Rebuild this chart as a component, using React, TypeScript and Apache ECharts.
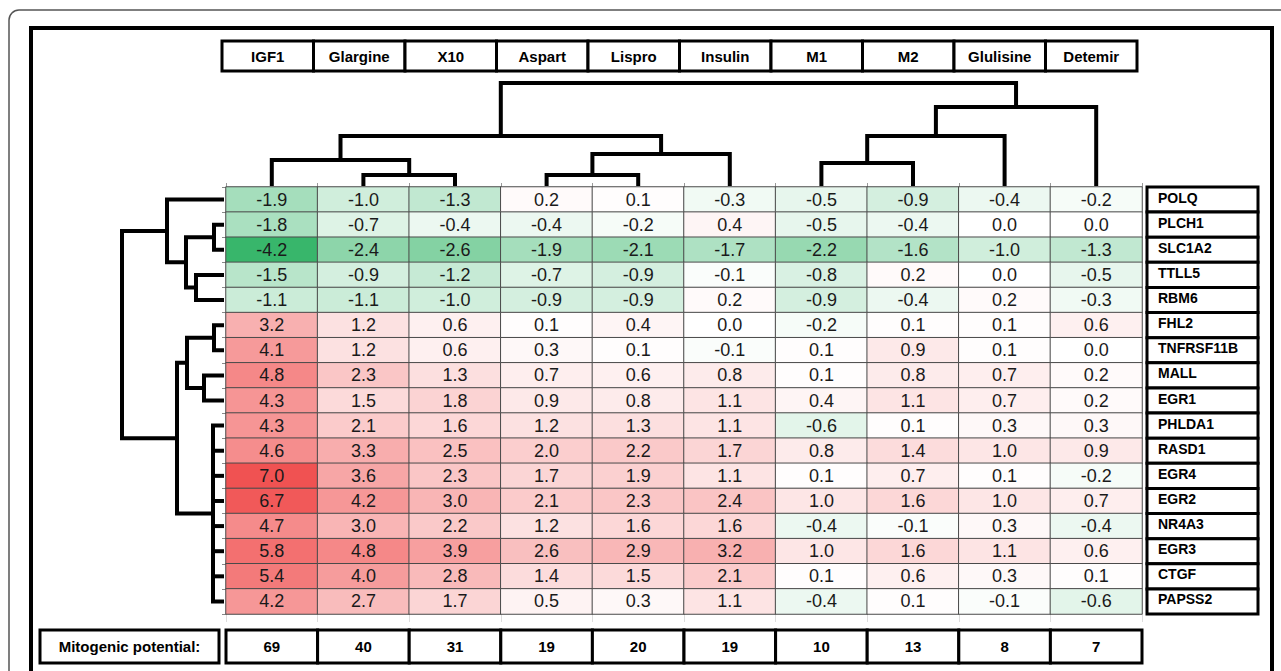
import React, { useEffect, useRef } from "react";
import * as echarts from "echarts";

const drugs = ["IGF1", "Glargine", "X10", "Aspart", "Lispro", "Insulin", "M1", "M2", "Glulisine", "Detemir"];
const genes = ["POLQ", "PLCH1", "SLC1A2", "TTLL5", "RBM6", "FHL2", "TNFRSF11B", "MALL", "EGR1", "PHLDA1", "RASD1", "EGR4", "EGR2", "NR4A3", "EGR3", "CTGF", "PAPSS2"];

const POLQ = [-1.9, -1.0, -1.3, 0.2, 0.1, -0.3, -0.5, -0.9, -0.4, -0.2];
const PLCH1 = [-1.8, -0.7, -0.4, -0.4, -0.2, 0.4, -0.5, -0.4, 0.0, 0.0];
const SLC1A2 = [-4.2, -2.4, -2.6, -1.9, -2.1, -1.7, -2.2, -1.6, -1.0, -1.3];
const TTLL5 = [-1.5, -0.9, -1.2, -0.7, -0.9, -0.1, -0.8, 0.2, 0.0, -0.5];
const RBM6 = [-1.1, -1.1, -1.0, -0.9, -0.9, 0.2, -0.9, -0.4, 0.2, -0.3];
const FHL2 = [3.2, 1.2, 0.6, 0.1, 0.4, 0.0, -0.2, 0.1, 0.1, 0.6];
const TNFRSF11B = [4.1, 1.2, 0.6, 0.3, 0.1, -0.1, 0.1, 0.9, 0.1, 0.0];
const MALL = [4.8, 2.3, 1.3, 0.7, 0.6, 0.8, 0.1, 0.8, 0.7, 0.2];
const EGR1 = [4.3, 1.5, 1.8, 0.9, 0.8, 1.1, 0.4, 1.1, 0.7, 0.2];
const PHLDA1 = [4.3, 2.1, 1.6, 1.2, 1.3, 1.1, -0.6, 0.1, 0.3, 0.3];
const RASD1 = [4.6, 3.3, 2.5, 2.0, 2.2, 1.7, 0.8, 1.4, 1.0, 0.9];
const EGR4 = [7.0, 3.6, 2.3, 1.7, 1.9, 1.1, 0.1, 0.7, 0.1, -0.2];
const EGR2 = [6.7, 4.2, 3.0, 2.1, 2.3, 2.4, 1.0, 1.6, 1.0, 0.7];
const NR4A3 = [4.7, 3.0, 2.2, 1.2, 1.6, 1.6, -0.4, -0.1, 0.3, -0.4];
const EGR3 = [5.8, 4.8, 3.9, 2.6, 2.9, 3.2, 1.0, 1.6, 1.1, 0.6];
const CTGF = [5.4, 4.0, 2.8, 1.4, 1.5, 2.1, 0.1, 0.6, 0.3, 0.1];
const PAPSS2 = [4.2, 2.7, 1.7, 0.5, 0.3, 1.1, -0.4, 0.1, -0.1, -0.6];

const rows = [POLQ, PLCH1, SLC1A2, TTLL5, RBM6, FHL2, TNFRSF11B, MALL, EGR1, PHLDA1, RASD1, EGR4, EGR2, NR4A3, EGR3, CTGF, PAPSS2];

const mitogenicLabel = "Mitogenic potential:";
const mitogenicPotential = [69, 40, 31, 19, 20, 19, 10, 13, 8, 7];

// Dendrogram merges: leaves are 0..n-1, each merge gets the next id
const drugMerges = [
  { children: [1, 2], height: 11 },
  { children: [0, 10], height: 26 },
  { children: [3, 4], height: 11 },
  { children: [12, 5], height: 32 },
  { children: [11, 13], height: 50 },
  { children: [6, 7], height: 23 },
  { children: [15, 8], height: 50 },
  { children: [16, 9], height: 79 },
  { children: [14, 17], height: 103 },
];
const geneMerges = [
  { children: [1, 2], height: 10 },
  { children: [3, 4], height: 28 },
  { children: [17, 18], height: 38 },
  { children: [0, 19], height: 57 },
  { children: [5, 6], height: 10 },
  { children: [7, 8], height: 20 },
  { children: [21, 22], height: 37 },
  { children: [9, 10, 11, 12, 13, 14, 15, 16], height: 11 },
  { children: [23, 24], height: 47 },
  { children: [20, 25], height: 102 },
];

type Seg = { height: number; stems: number[][] };

function buildDendro(nLeaves: number, merges: { children: number[]; height: number }[]): Seg[] {
  const pos: number[] = [];
  const h: number[] = [];
  for (let i = 0; i < nLeaves; i++) {
    pos.push(i + 0.5);
    h.push(0);
  }
  return merges.map((m) => {
    const stems = m.children.map((c) => [pos[c], h[c]]).sort((a, b) => a[0] - b[0]);
    pos.push((stems[0][0] + stems[stems.length - 1][0]) / 2);
    h.push(m.height);
    return { height: m.height, stems };
  });
}

function mix(a: number[], b: number[], t: number) {
  const c = a.map((v, i) => Math.round(v + (b[i] - v) * t));
  return `rgb(${c[0]},${c[1]},${c[2]})`;
}

const GREEN = [56, 182, 107];
const WHITE = [255, 255, 255];
const RED = [240, 82, 82];
const vMin = -4.2;
const vMax = 7.0;

function buildStops() {
  const out: string[] = [];
  const n = 112;
  for (let i = 0; i <= n; i++) {
    const v = vMin + ((vMax - vMin) * i) / n;
    out.push(v < 0 ? mix(WHITE, GREEN, -v / -vMin) : mix(WHITE, RED, v / vMax));
  }
  return out;
}

const FONT = "'Liberation Sans', Arial, sans-serif";

function dendroShape(seg: Seg, pt: (p: number, h: number) => number[]) {
  const first = seg.stems[0];
  const last = seg.stems[seg.stems.length - 1];
  const style = { fill: "none", stroke: "#000", lineWidth: 4, lineJoin: "miter", lineCap: "butt" };
  const children: any[] = [
    {
      type: "polyline",
      shape: {
        points: [pt(first[0], first[1]), pt(first[0], seg.height), pt(last[0], seg.height), pt(last[0], last[1])],
      },
      style,
    },
  ];
  seg.stems.slice(1, -1).forEach((s) => {
    const a = pt(s[0], s[1]);
    const b = pt(s[0], seg.height);
    children.push({ type: "line", shape: { x1: a[0], y1: a[1], x2: b[0], y2: b[1] }, style });
  });
  return { type: "group", children };
}

function boxRenderer(getText: (i: number) => string, opts: { align: string; pad: number; dy: number; size: number }) {
  return (params: any, api: any) => {
    const c = api.coord([api.value(0), api.value(1)]);
    const s = api.size([1, 1]);
    const x0 = c[0] - s[0] / 2;
    const y0 = c[1] - s[1] / 2;
    return {
      type: "group",
      children: [
        {
          type: "rect",
          shape: { x: x0, y: y0, width: s[0], height: s[1] },
          style: { fill: "#fff", stroke: "#000", lineWidth: 3 },
        },
        {
          type: "text",
          style: {
            text: getText(params.dataIndex),
            x: opts.align === "left" ? x0 + opts.pad : c[0],
            y: c[1] + opts.dy,
            align: opts.align,
            verticalAlign: "middle",
            fontSize: opts.size,
            fontWeight: "bold",
            fontFamily: FONT,
            fill: "#000",
          },
        },
      ],
    };
  };
}

export default function App() {
  const ref = useRef<HTMLDivElement>(null);

  useEffect(() => {
    if (!ref.current) return;
    const chart = echarts.init(ref.current, undefined, { renderer: "svg" });

    const heatData: number[][] = [];
    rows.forEach((r, y) => r.forEach((v, x) => heatData.push([x, y, v])));

    const topDendro = buildDendro(drugs.length, drugMerges);
    const leftDendro = buildDendro(genes.length, geneMerges);

    const cellTop = 187;
    const cellH = 427;
    const hmLeft = 226;
    const hmWidth = 916;

    const hidden = { show: false };

    const option: any = {
      animation: false,
      backgroundColor: "#fff",
      graphic: [
        {
          type: "rect",
          shape: { x: 9, y: 10, width: 1400, height: 800, r: 10 },
          style: { fill: "none", stroke: "#555", lineWidth: 1.5 },
          silent: true,
        },
        {
          type: "rect",
          shape: { x: 31, y: 28, width: 1241, height: 800 },
          style: { fill: "none", stroke: "#000", lineWidth: 4 },
          silent: true,
        },
      ],
      grid: [
        { left: hmLeft, top: cellTop, width: hmWidth, height: cellH },
        { left: hmLeft, top: 83, width: hmWidth, height: 103 },
        { left: 122, top: cellTop, width: 102, height: cellH },
        { left: 222, top: 41, width: 915, height: 30 },
        { left: 1147, top: cellTop, width: 111, height: cellH },
        { left: 40, top: 630, width: 179, height: 33 },
        { left: hmLeft, top: 630, width: hmWidth, height: 33 },
      ],
      xAxis: [
        {
          gridIndex: 0,
          type: "category",
          data: drugs,
          position: "top",
          axisLine: { show: true, lineStyle: { color: "#999", width: 1 } },
          axisTick: { show: true, length: 4, lineStyle: { color: "#999" } },
          axisLabel: { show: false },
          splitLine: { show: false },
        },
        {
          gridIndex: 0,
          type: "category",
          data: drugs,
          position: "bottom",
          axisLine: { show: false },
          axisTick: { show: true, length: 8, lineStyle: { color: "#ddd" } },
          axisLabel: { show: false },
        },
        { gridIndex: 1, type: "value", min: 0, max: drugs.length, ...hidden },
        { gridIndex: 2, type: "value", min: 0, max: 102, inverse: true, ...hidden },
        { gridIndex: 3, type: "category", data: drugs, ...hidden },
        { gridIndex: 4, type: "category", data: ["gene"], ...hidden },
        { gridIndex: 5, type: "category", data: ["label"], ...hidden },
        { gridIndex: 6, type: "category", data: drugs, ...hidden },
      ],
      yAxis: [
        {
          gridIndex: 0,
          type: "category",
          data: genes,
          inverse: true,
          axisLine: { show: true, lineStyle: { color: "#888", width: 1 } },
          axisTick: { show: true, length: 4, lineStyle: { color: "#888" } },
          axisLabel: { show: false },
          splitLine: { show: false },
        },
        { gridIndex: 1, type: "value", min: 0, max: 103, ...hidden },
        { gridIndex: 2, type: "value", min: 0, max: genes.length, inverse: true, ...hidden },
        { gridIndex: 3, type: "category", data: ["header"], ...hidden },
        { gridIndex: 4, type: "category", data: genes, inverse: true, ...hidden },
        { gridIndex: 5, type: "category", data: ["label"], ...hidden },
        { gridIndex: 6, type: "category", data: ["value"], ...hidden },
      ],
      visualMap: {
        show: false,
        type: "continuous",
        seriesIndex: 0,
        dimension: 2,
        min: vMin,
        max: vMax,
        inRange: { color: buildStops() },
      },
      series: [
        {
          type: "heatmap",
          xAxisIndex: 0,
          yAxisIndex: 0,
          data: heatData,
          itemStyle: { borderColor: "#4a4a4a", borderWidth: 1 },
          label: {
            show: true,
            formatter: (p: any) => Number(p.value[2]).toFixed(1),
            fontSize: 18,
            fontFamily: FONT,
            color: "#1a1a1a",
          },
          emphasis: { disabled: true },
        },
        {
          type: "custom",
          xAxisIndex: 2,
          yAxisIndex: 1,
          data: topDendro.map((s, i) => [i, s.height]),
          clip: false,
          silent: true,
          z: 5,
          renderItem: (params: any, api: any) =>
            dendroShape(topDendro[params.dataIndex], (p, h) => api.coord([p, h])),
        },
        {
          type: "custom",
          xAxisIndex: 3,
          yAxisIndex: 2,
          data: leftDendro.map((s, i) => [s.height, i]),
          clip: false,
          silent: true,
          z: 5,
          renderItem: (params: any, api: any) =>
            dendroShape(leftDendro[params.dataIndex], (p, h) => api.coord([h, p])),
        },
        {
          type: "custom",
          xAxisIndex: 4,
          yAxisIndex: 3,
          data: drugs.map((d, i) => [i, 0]),
          clip: false,
          silent: true,
          renderItem: boxRenderer((i) => drugs[i], { align: "center", pad: 0, dy: 0, size: 15 }),
        },
        {
          type: "custom",
          xAxisIndex: 5,
          yAxisIndex: 4,
          data: genes.map((g, i) => [0, i]),
          clip: false,
          silent: true,
          renderItem: boxRenderer((i) => genes[i], { align: "left", pad: 11, dy: -2, size: 14 }),
        },
        {
          type: "custom",
          xAxisIndex: 6,
          yAxisIndex: 5,
          data: [[0, 0]],
          clip: false,
          silent: true,
          renderItem: boxRenderer(() => mitogenicLabel, { align: "center", pad: 0, dy: 0, size: 15 }),
        },
        {
          type: "custom",
          xAxisIndex: 7,
          yAxisIndex: 6,
          data: mitogenicPotential.map((v, i) => [i, 0]),
          clip: false,
          silent: true,
          renderItem: boxRenderer((i) => String(mitogenicPotential[i]), { align: "center", pad: 0, dy: 0, size: 15 }),
        },
      ],
    };

    chart.setOption(option);
    return () => chart.dispose();
  }, []);

  return (
    <div
      ref={ref}
      style={{ position: "absolute", left: 0, top: 0, width: 1281, height: 671, background: "#fff" }}
    />
  );
}
